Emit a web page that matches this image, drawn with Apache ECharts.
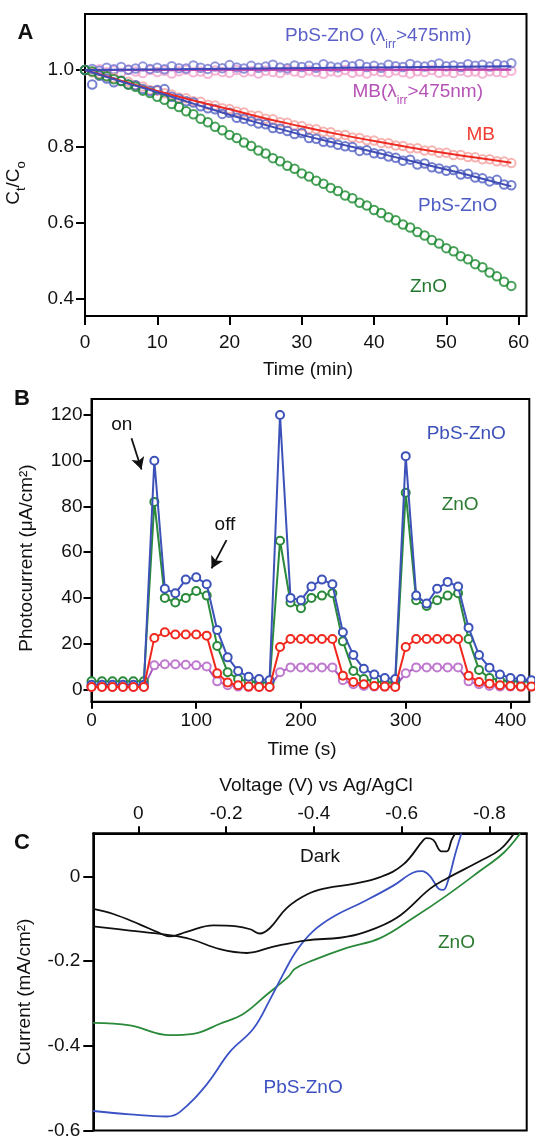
<!DOCTYPE html>
<html><head><meta charset="utf-8">
<script src="https://cdn.jsdelivr.net/npm/echarts@6/dist/echarts.min.js"></script>
<style>html,body{margin:0;padding:0;background:#fff}#c{width:535px;height:1140px}</style>
</head><body><div id="c"></div>
<script>
const FONT = '"Liberation Sans", Arial, Helvetica, sans-serif';

// ---------- Panel A: photodegradation (Ct/Co vs time, min) ----------
const aTime = [0,1,2,3,4,5,6,7,8,9,10,11,12,13,14,15,16,17,18,19,20,21,22,23,24,25,26,27,28,29,30,31,32,33,34,35,36,37,38,39,40,41,42,43,44,45,46,47,48,49,50,51,52,53,54,55,56,57,58,59];
const aZnO = [1.000,0.996,0.988,0.984,0.976,0.971,0.962,0.956,0.946,0.940,0.930,0.922,0.911,0.903,0.892,0.884,0.872,0.863,0.851,0.842,0.830,0.822,0.810,0.801,0.789,0.781,0.769,0.761,0.749,0.741,0.729,0.721,0.710,0.702,0.691,0.683,0.671,0.664,0.652,0.645,0.633,0.625,0.614,0.606,0.595,0.587,0.575,0.566,0.554,0.545,0.533,0.525,0.512,0.504,0.491,0.483,0.469,0.459,0.445,0.434];
const aPbS = [1.000,0.962,0.985,0.978,0.968,0.972,0.962,0.960,0.950,0.945,0.948,0.950,0.930,0.925,0.918,0.915,0.905,0.900,0.897,0.885,0.888,0.875,0.872,0.866,0.860,0.858,0.848,0.846,0.840,0.832,0.835,0.822,0.820,0.812,0.810,0.804,0.800,0.798,0.788,0.790,0.782,0.780,0.773,0.770,0.762,0.765,0.752,0.755,0.745,0.742,0.736,0.738,0.726,0.728,0.718,0.716,0.708,0.712,0.700,0.698];
const aMB = [1.000,0.994,0.991,0.983,0.979,0.971,0.969,0.960,0.957,0.948,0.946,0.939,0.936,0.928,0.926,0.918,0.917,0.909,0.907,0.900,0.898,0.891,0.889,0.881,0.880,0.872,0.871,0.863,0.862,0.855,0.853,0.846,0.845,0.838,0.837,0.830,0.830,0.823,0.822,0.816,0.815,0.809,0.808,0.802,0.801,0.795,0.795,0.789,0.789,0.783,0.783,0.777,0.777,0.772,0.771,0.766,0.766,0.761,0.760,0.756];
const aPbSVis = [1.000,1.003,0.998,1.006,1.002,1.008,1.001,1.004,1.009,1.003,1.006,1.002,1.010,1.005,1.004,1.012,1.006,1.003,1.009,1.005,1.013,1.007,1.004,1.011,1.006,1.009,1.014,1.007,1.005,1.012,1.008,1.011,1.006,1.015,1.009,1.007,1.013,1.010,1.016,1.008,1.011,1.006,1.014,1.010,1.008,1.016,1.011,1.009,1.013,1.017,1.010,1.012,1.008,1.015,1.011,1.014,1.009,1.016,1.012,1.018];
const aMBVis = [1.000,0.996,1.002,0.994,0.999,0.993,1.001,0.996,0.992,1.000,0.995,0.998,0.991,0.997,1.001,0.994,0.996,0.990,0.999,0.995,0.993,1.000,0.994,0.997,0.991,0.998,0.995,0.992,1.000,0.996,0.993,0.999,0.995,0.990,0.997,0.994,1.000,0.993,0.996,0.991,0.998,0.995,0.993,0.999,0.994,0.991,0.997,0.995,1.000,0.993,0.996,0.992,0.998,0.994,0.996,0.991,0.997,0.995,0.993,0.998];
// fitted curves (read at knots)
const aFitTime = [0,5,10,15,20,25,30,35,40,45,50,55,59];
const aPbSFit = [1.000,0.970,0.942,0.912,0.883,0.856,0.830,0.807,0.785,0.762,0.739,0.715,0.695];
const aMBFit  = [1.000,0.972,0.945,0.920,0.897,0.873,0.852,0.832,0.814,0.797,0.782,0.768,0.757];
const aVisFitTime = [0,59];
const aPbSVisFit = [1.000,1.010];
const aMBVisFit = [1.000,1.001];
const aXTicks = [0,10,20,30,40,50,60];
const aYTicks = [0.4,0.6,0.8,1.0];

// ---------- Panel B: photocurrent vs time (s) ----------
const bTime = [0,10,20,30,40,50,60,70,80,90,100,110,120,130,140,150,160,170,180,190,200,210,220,230,240,250,260,270,280,290,300,310,320,330,340,350,360,370,380,390,400,410,420];
const bPbS = [2,2,2,2,2,2,100,44,42,48,49,46,26,14,8,5.5,4.5,4,120,40,39,45,48,46,25,15,9,6.5,5,4.5,102,41,37.5,44,47,45,27,15,9.5,6.5,5,4.5,4];
const bZnO = [3.5,3.5,3.5,3.5,3.5,3.5,82,40,38,40,43,41,19,7.5,4.5,3.5,3,3,65,38,35.5,40,41,42,21,8,4.5,3.5,3,3,86,39,36.5,39,41,42,22,8.5,5,4,3.5,3.5,3.5];
const bRed = [1,1,1,1,1,1,22.5,25,24,24,24,23.5,7,3,1.8,1.2,1,1,18.5,22,22,22,22,22,6,3.2,2.2,1.5,1.2,1,18.5,22,22,22,22,22,6,3.2,2.5,1.8,1.5,1.2,1.2];
const bPurple = [1,1,1,1,1,1,10.5,11,11,10.8,10.5,10,3.5,1.8,1.2,1,1,1,7.5,9.6,9.6,9.6,9.6,9.6,4,2.2,1.5,1.2,1.2,1.2,7,9.6,9.6,9.6,9.6,9.6,3.5,2.2,1.5,1.2,1.2,1.2,1.2];
const bXTicks = [0,100,200,300,400];
const bYTicks = [0,20,40,60,80,100,120];
const bOnArrow = [[38.2,109.8],[47.7,96.2]];
const bOffArrow = [[128.9,65.3],[114.6,52.9]];

// ---------- Panel C: current vs voltage ----------
const cDarkAV = [0.103,0.057,-0.004,-0.042,-0.072,-0.110,-0.171,-0.224,-0.255,-0.277,-0.300,-0.338,-0.384,-0.429,-0.490,-0.551,-0.604,-0.650,-0.657,-0.672,-0.691,-0.703,-0.714,-0.722];
const cDarkAI = [-0.077,-0.089,-0.114,-0.131,-0.142,-0.131,-0.116,-0.118,-0.125,-0.135,-0.122,-0.075,-0.043,-0.028,-0.018,-0.002,0.028,0.086,0.090,0.086,0.059,0.059,0.086,0.101];
const cDarkBV = [0.103,0.019,-0.057,-0.118,-0.186,-0.247,-0.308,-0.384,-0.460,-0.513,-0.589,-0.665,-0.703,-0.779,-0.824,-0.855];
const cDarkBI = [-0.118,-0.128,-0.137,-0.148,-0.172,-0.181,-0.166,-0.151,-0.145,-0.133,-0.098,-0.029,-0.005,0.036,0.063,0.100];
const cPbSV = [0.103,0.019,-0.065,-0.095,-0.156,-0.209,-0.262,-0.300,-0.331,-0.361,-0.399,-0.445,-0.513,-0.581,-0.627,-0.646,-0.665,-0.684,-0.695,-0.707,-0.722,-0.736];
const cPbSI = [-0.554,-0.562,-0.567,-0.556,-0.491,-0.414,-0.360,-0.291,-0.229,-0.175,-0.129,-0.095,-0.060,-0.022,0.009,0.012,0.000,-0.029,-0.032,-0.006,0.052,0.101];
const cZnOV = [0.103,0.019,-0.072,-0.125,-0.186,-0.239,-0.293,-0.342,-0.357,-0.399,-0.475,-0.551,-0.627,-0.703,-0.779,-0.832,-0.870];
const cZnOI = [-0.346,-0.352,-0.375,-0.372,-0.348,-0.325,-0.279,-0.237,-0.218,-0.198,-0.169,-0.146,-0.098,-0.045,0.013,0.055,0.101];
const cXTicks = [0,-0.2,-0.4,-0.6,-0.8];
const cYTicks = [-0.6,-0.4,-0.2,0];

const zip = (xs, ys) => xs.map((x, i) => [x, ys[i]]);

const lbl = (margin, fmt) => ({show:true, margin, fontSize:19, fontFamily:FONT, color:'#111', formatter: fmt});
const axLine = {show:true, onZero:false, lineStyle:{color:'#000', width:2}};
const tick = (len, vals) => ({show:true, length:len, customValues: vals, lineStyle:{color:'#000', width:2}});
const fmt1 = v => v === 0 ? '0' : v.toFixed(1);

function ring(name, data, color, z) {
  return {name, type:'scatter', xAxisIndex:0, yAxisIndex:0, data, symbol:'circle', symbolSize:8.5, z,
    itemStyle:{color:'rgba(255,255,255,0)', borderColor:color, borderWidth:2}, silent:true};
}
function fit(name, data, color, z) {
  return {name, type:'line', xAxisIndex:0, yAxisIndex:0, data, showSymbol:false, smooth:true, z,
    lineStyle:{color, width:2}, silent:true};
}
function bLine(name, data, color, lineColor, z) {
  return {name, type:'line', xAxisIndex:1, yAxisIndex:1, data, symbol:'circle', symbolSize:8, clip:false, z,
    itemStyle:{color:'#fff', borderColor:color, borderWidth:2}, lineStyle:{color:lineColor, width:2}, silent:true};
}
function cLine(name, data, color, z) {
  return {name, type:'line', xAxisIndex:2, yAxisIndex:2, data, showSymbol:false, smooth:0.4, z,
    lineStyle:{color, width:1.8}, silent:true};
}

function t(x, y, text, color, opts) {
  opts = opts || {};
  return {type:'text', x, y, rotation: opts.rot || 0, z:100, silent:true,
    style:Object.assign({text, fill:color, fontSize: opts.size || 19, fontFamily:FONT,
      fontWeight: opts.weight || 'normal', align: opts.align || 'left', verticalAlign:'middle'}, opts.style || {})};
}
function richLam(x, y, pre, post, color) {
  return {type:'text', x, y, z:100, silent:true, style:{
    text:'{a|' + pre + '}{s|irr}{a|' + post + '}', align:'left', verticalAlign:'middle',
    rich:{a:{fontSize:19, fontFamily:FONT, fill:color, lineHeight:24, verticalAlign:'top'},
          s:{fontSize:12, fontFamily:FONT, fill:color, verticalAlign:'bottom'}}}};
}

const option = {
  backgroundColor:'#fff',
  animation:false,
  grid:[
    {left:85, top:14, width:441.5, height:302, show:true, borderColor:'#000', borderWidth:2, backgroundColor:'transparent'},
    {left:91.5, top:399, width:437.8, height:302.7, show:true, borderColor:'#000', borderWidth:2, backgroundColor:'transparent'},
    {left:93.3, top:833.3, width:433.4, height:304.5, show:true, borderColor:'#000', borderWidth:2, backgroundColor:'transparent'}
  ],
  xAxis:[
    {gridIndex:0, type:'value', min:0, max:61.1, axisLine:axLine, axisTick:tick(9, aXTicks),
      axisLabel:Object.assign(lbl(17), {customValues:aXTicks}), splitLine:{show:false}},
    {gridIndex:1, type:'value', min:0, max:418, axisLine:axLine, axisTick:tick(7, bXTicks),
      axisLabel:Object.assign(lbl(10), {customValues:bXTicks}), splitLine:{show:false}},
    {gridIndex:2, type:'value', position:'top', inverse:true, min:-0.885, max:0.1026, axisLine:axLine, axisTick:tick(7, cXTicks),
      axisLabel:Object.assign(lbl(10, fmt1), {customValues:cXTicks}), splitLine:{show:false}}
  ],
  yAxis:[
    {gridIndex:0, type:'value', min:0.355, max:1.147, axisLine:axLine, axisTick:tick(9, aYTicks),
      axisLabel:Object.assign(lbl(11, v => v.toFixed(1)), {customValues:aYTicks}), splitLine:{show:false}},
    {gridIndex:1, type:'value', min:-5.4, max:127, axisLine:axLine, axisTick:tick(8, bYTicks),
      axisLabel:Object.assign(lbl(9), {customValues:bYTicks}), splitLine:{show:false}},
    {gridIndex:2, type:'value', min:-0.6, max:0.1015, axisLine:axLine, axisTick:tick(10, cYTicks),
      axisLabel:Object.assign(lbl(13, fmt1), {customValues:cYTicks}), splitLine:{show:false}}
  ],
  series:[
    ring('MB vis', zip(aTime, aMBVis), '#f2a3cc', 2),
    ring('PbS-ZnO vis', zip(aTime, aPbSVis), '#7479cf', 3),
    ring('MB', zip(aTime, aMB), '#f4a2a0', 4),
    ring('PbS-ZnO', zip(aTime, aPbS), '#5360c2', 5),
    ring('ZnO', zip(aTime, aZnO), '#1a8a30', 6),
    fit('MB vis fit', zip(aVisFitTime, aMBVisFit), '#c43eaa', 7),
    fit('PbS-ZnO vis fit', zip(aVisFitTime, aPbSVisFit), '#3a4ab8', 8),
    fit('MB fit', zip(aFitTime, aMBFit), '#ee2b22', 7),
    fit('PbS-ZnO fit', zip(aFitTime, aPbSFit), '#3f4db5', 8),

    bLine('B purple', zip(bTime, bPurple), '#c07ad0', '#a855bb', 2),
    bLine('B ZnO', zip(bTime, bZnO), '#2a8a3a', '#2a8a3a', 3),
    bLine('B PbS-ZnO', zip(bTime, bPbS), '#3d52b8', '#3d52b8', 4),
    Object.assign(bLine('B red', zip(bTime, bRed), '#f0281e', '#f0281e', 5), {
      markLine:{silent:true, symbol:['none','arrow'], symbolSize:[10,12], label:{show:false},
        lineStyle:{color:'#111', width:1.8, type:'solid'},
        data:[[{coord:bOnArrow[0]},{coord:bOnArrow[1]}],[{coord:bOffArrow[0]},{coord:bOffArrow[1]}]]}
    }),

    cLine('ZnO IV', zip(cZnOV, cZnOI), '#2a8a3a', 2),
    cLine('PbS-ZnO IV', zip(cPbSV, cPbSI), '#3a52c4', 3),
    cLine('Dark A', zip(cDarkAV, cDarkAI), '#111', 4),
    cLine('Dark B', zip(cDarkBV, cDarkBI), '#111', 4)
  ],
  graphic:[
    t(25.5, 32.5, 'A', '#111', {size:22, weight:'bold', align:'center'}),
    t(22, 398.5, 'B', '#111', {size:22, weight:'bold', align:'center'}),
    t(22, 842.5, 'C', '#111', {size:22, weight:'bold', align:'center'}),
    t(308, 370, 'Time (min)', '#111', {align:'center'}),
    {type:'text', x:16, y:183, rotation:Math.PI/2, z:100, silent:true, style:{
      text:'{a|C}{s|t}{a|/C}{s|o}', align:'center', verticalAlign:'middle',
      rich:{a:{fontSize:19, fontFamily:FONT, fill:'#111', lineHeight:24, verticalAlign:'top'},
            s:{fontSize:13, fontFamily:FONT, fill:'#111', verticalAlign:'bottom'}}}},
    richLam(285, 38.5, 'PbS-ZnO (λ', '>475nm)', '#5b5fc7'),
    richLam(352.5, 94.5, 'MB(λ', '>475nm)', '#b552b5'),
    t(466.5, 135, 'MB', '#f03c32'),
    t(418, 206, 'PbS-ZnO', '#4c5cc4'),
    t(410, 287, 'ZnO', '#237a2e'),

    t(302, 750, 'Time (s)', '#111', {align:'center'}),
    t(27, 558, 'Photocurrent (μA/cm²)', '#111', {align:'center', rot:Math.PI/2}),
    t(121.7, 425, 'on', '#111', {align:'center'}),
    t(225, 525, 'off', '#111', {align:'center'}),
    t(426.7, 434, 'PbS-ZnO', '#3d50b8'),
    t(441.7, 505, 'ZnO', '#2a7a30'),

    t(316, 786, 'Voltage (V) vs Ag/AgCl', '#111', {align:'center'}),
    t(25, 992, 'Current (mA/cm²)', '#111', {align:'center', rot:Math.PI/2}),
    t(300, 856.7, 'Dark', '#111'),
    t(438, 943, 'ZnO', '#2a7a30'),
    t(263.5, 1087.5, 'PbS-ZnO', '#3d50c0')
  ]
};
const chart = echarts.init(document.getElementById('c'));
chart.setOption(option);
</script>
</body></html>
